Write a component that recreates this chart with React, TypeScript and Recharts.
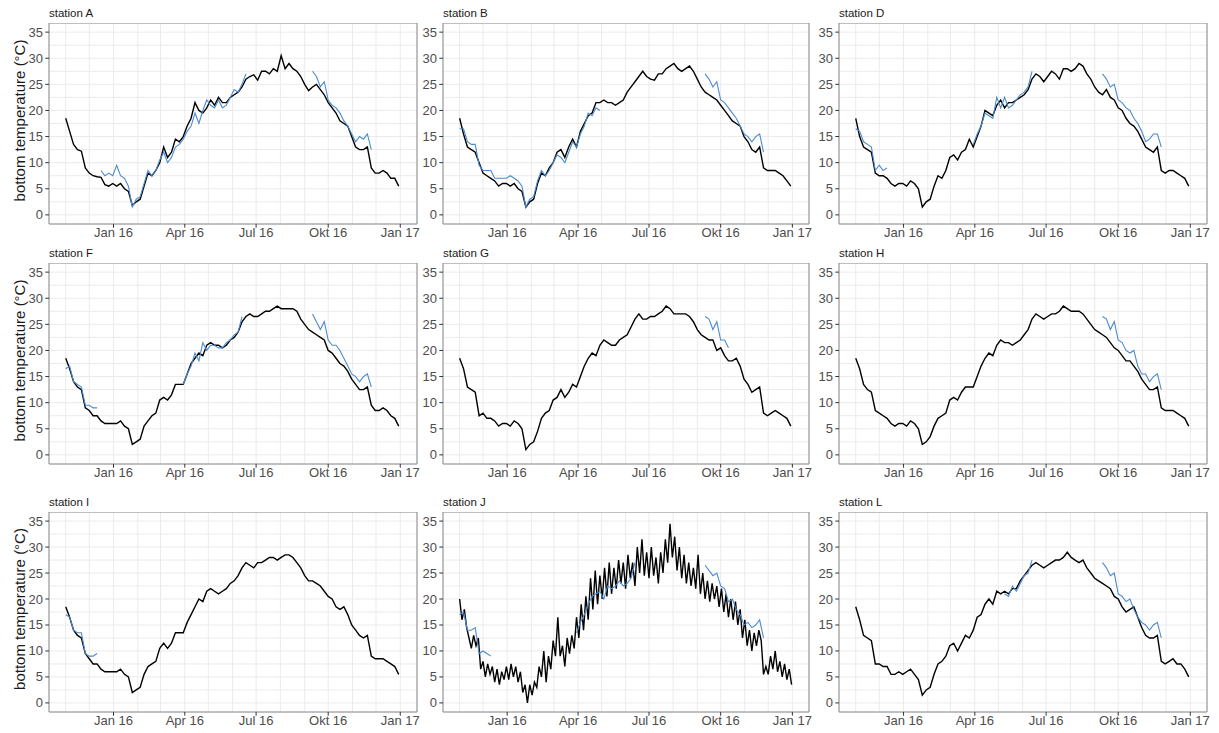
import { LineChart, Line, XAxis, YAxis, CartesianGrid, ReferenceArea } from 'recharts'

// days since 1 Jan 2016, one reading every 5 days
const days = [
  -61, -56, -51, -46, -41, -36, -31, -26, -21, -16,
  -11, -6, -1, 4, 9, 14, 19, 24, 29, 34,
  39, 44, 49, 54, 59, 64, 69, 74, 79, 84,
  89, 94, 99, 104, 109, 114, 119, 124, 129, 134,
  139, 144, 149, 154, 159, 164, 169, 174, 179, 184,
  189, 194, 199, 204, 209, 214, 219, 224, 229, 234,
  239, 244, 249, 254, 259, 264, 269, 274, 279, 284,
  289, 294, 299, 304, 309, 314, 319, 324, 329, 334,
  339, 344, 349, 354, 359, 364,
]

// station J is much noisier, read every 3 days
const daysJ = [
  -61, -58, -55, -52, -49, -46, -43, -40, -37, -34,
  -31, -28, -25, -22, -19, -16, -13, -10, -7, -4,
  -1, 2, 5, 8, 11, 14, 17, 20, 23, 26,
  29, 32, 35, 38, 41, 44, 47, 50, 53, 56,
  59, 62, 65, 68, 71, 74, 77, 80, 83, 86,
  89, 92, 95, 98, 101, 104, 107, 110, 113, 116,
  119, 122, 125, 128, 131, 134, 137, 140, 143, 146,
  149, 152, 155, 158, 161, 164, 167, 170, 173, 176,
  179, 182, 185, 188, 191, 194, 197, 200, 203, 206,
  209, 212, 215, 218, 221, 224, 227, 230, 233, 236,
  239, 242, 245, 248, 251, 254, 257, 260, 263, 266,
  269, 272, 275, 278, 281, 284, 287, 290, 293, 296,
  299, 302, 305, 308, 311, 314, 317, 320, 323, 326,
  329, 332, 335, 338, 341, 344, 347, 350, 353, 356,
  359, 362, 365,
]

const monthStarts = [-61, -31, 0, 31, 60, 91, 121, 152, 182, 213, 244, 274, 305, 335, 366]
const monthLabels: Record<number, string> = { 0: 'Jan 16', 91: 'Apr 16', 182: 'Jul 16', 274: 'Okt 16', 366: 'Jan 17' }
const tempTicks = [0, 2.5, 5, 7.5, 10, 12.5, 15, 17.5, 20, 22.5, 25, 27.5, 30, 32.5, 35]

const stationNames = ['station A', 'station B', 'station D', 'station F', 'station G', 'station H', 'station I', 'station J', 'station L']

// black = station series, blue = comparison series (segments on the 5-day grid, starting at a day)
const blackA = [
  18.5, 16, 13.5, 12.5, 12.2, 9, 8, 7.5, 7.3, 7.2,
  5.8, 5.5, 6, 5.5, 6, 5, 4.5, 1.8, 2.5, 3,
  5.5, 8, 7.5, 8.5, 10, 13, 11, 12, 14.5, 14,
  15, 17, 18.5, 21.5, 20, 19.5, 20.5, 22, 21, 22.5,
  21.5, 21.5, 22.5, 23, 23.5, 24.5, 26, 26.5, 26.8, 25.8,
  27.5, 27.5, 27, 28, 27.5, 30.5, 28, 29, 28, 27.5,
  26.5, 25, 23.8, 24.5, 25, 24, 23, 21.5, 20.5, 19.5,
  18, 17.5, 17, 15, 13, 12.5, 12.5, 13, 9, 8,
  8, 8.5, 8, 7, 7, 5.5,
]
const blueA = [
  { from: -16, vals: [8.5, 7.5, 8, 7.5, 9.5, 7.5, 7, 5.5, 1.5, 3, 3.5, 6, 8.5, 7.5, 8.5, 10.5, 12, 10, 11, 13, 13.5, 14.5, 16, 17, 19.5, 17.5, 20, 22, 21, 20.5, 22, 20.5, 21, 22.5, 24, 23.5, 25, 27] },
  { from: 254, vals: [27.5, 26.5, 24.5, 25.5, 22, 21, 20.5, 19.5, 18, 17, 15.5, 14, 15, 14.5, 15.5, 12.5] },
]

const blackB = [
  18.5, 15.5, 13, 12.5, 12, 10, 8, 7.5, 7, 6.5,
  5.5, 6, 6, 5.5, 6, 5, 4.5, 1.5, 2.5, 3,
  6, 8, 7.5, 9, 10, 12, 12.5, 11, 13, 14.5,
  13, 16, 17.5, 19, 19.5, 21.5, 21.5, 22, 21.5, 21.5,
  21, 21.5, 22, 23.5, 24.5, 25.5, 26.5, 27.5, 26.5, 26,
  25.8, 27, 27, 28, 28.5, 29, 28, 27.5, 28, 28.5,
  27.5, 26, 24.5, 23.5, 23, 22.5, 22, 21, 20, 19,
  18, 17.5, 17, 15, 14, 12.5, 12, 13, 9, 8.5,
  8.5, 8.5, 8, 7.5, 6.5, 5.5,
]
const blueB = [
  { from: -61, vals: [16.5, 16.5, 14, 13.5, 13.5, 9.5, 8.5, 8.5, 8.5, 7, 7, 7, 7, 7.5, 7, 6.5, 5.5, 1.5, 3, 3.5, 6.5, 8.5, 7.5, 8.5, 10, 11.5, 11, 10, 12, 14, 13, 15.5, 17, 19.5, 19, 20.5, 20] },
  { from: 254, vals: [27, 26, 24.5, 25.5, 22, 21.5, 20.5, 19.5, 18.5, 17, 15.5, 15, 14, 15, 15.5, 12] },
]

const blackD = [
  18.5, 15, 13, 12.5, 12, 8, 7.5, 7.5, 7, 6,
  5.5, 6, 6, 5.5, 6.5, 6, 5, 1.5, 2.5, 3,
  5.5, 7.5, 7, 8.5, 11, 11.5, 10.5, 12, 12.5, 14.5,
  13, 15, 17, 20, 19.5, 19, 21, 22, 20.5, 21.5,
  21.5, 22, 22.5, 23, 24, 26, 27, 26.5, 25.5, 26.5,
  27.5, 27, 26, 28, 28, 27.5, 28, 29, 28.5, 27,
  26, 24.5, 23.5, 23, 24, 22.5, 22, 20.5, 20, 18.5,
  17.5, 17, 16, 14.5, 13, 12.5, 12, 13, 8.5, 8,
  8.5, 8.5, 8, 7.5, 7, 5.5,
]
const blueD = [
  { from: -61, vals: [16.5, 16, 14, 13.5, 13, 8.5, 9.5, 8.5, 9] },
  { from: 89, vals: [13.5, 15.5, 17, 19.5, 19, 18.5, 22.5, 20.5, 22.5, 20.5, 21, 22, 23, 23.5, 24.5, 27.5] },
  { from: 254, vals: [27, 26, 24.5, 25, 22, 21.5, 20.5, 20, 18.5, 17.5, 16, 14, 14.5, 15.5, 15.5, 13] },
]

const blackF = [
  18.5, 16.5, 14, 13, 12.5, 9, 8.5, 7.5, 7.5, 6.5,
  6, 6, 6, 6, 6.5, 5.5, 5, 2, 2.5, 3,
  5.5, 6.5, 7.5, 8, 10.5, 11, 10.5, 11.5, 13.5, 13.5,
  13.5, 15.5, 17.5, 18.5, 19.5, 19, 21, 21.5, 21, 21,
  20.5, 21, 22, 22.5, 23.5, 25.5, 26.5, 27, 26.5, 26.5,
  27, 27.5, 27.5, 28, 28.5, 28, 28, 28, 28, 27.5,
  26, 25, 24, 23.5, 23, 22.5, 22, 20, 19.5, 18.5,
  17.5, 17, 16, 14.5, 13.5, 12.5, 12.5, 13, 9.5, 8.5,
  8.5, 9, 8.5, 7.5, 7, 5.5,
]
const blueF = [
  { from: -61, vals: [16.5, 17, 14, 13.5, 13, 9.5, 9.5, 9, 9] },
  { from: 89, vals: [13.5, 15.5, 17, 19.5, 18, 21.5, 20, 21, 21, 20.5, 20.5, 21.5, 22, 23, 23.5, 26.5] },
  { from: 254, vals: [27, 25.5, 24, 25.5, 22, 21, 21, 20, 18.5, 17, 15.5, 15, 14, 15, 15.5, 13] },
]

const blackG = [
  18.5, 16.5, 13, 12.5, 12, 7.5, 8, 7, 7, 6.5,
  5.5, 6, 6, 5.5, 6.5, 6, 5, 1, 2, 2.5,
  4.5, 7, 8, 8.5, 10.5, 11, 12.5, 11, 12, 13.5,
  13, 15, 17, 18.5, 19.5, 19, 21, 22, 21.5, 21,
  21, 22, 22.5, 23, 24.5, 26, 27, 26, 26, 26.5,
  26.5, 27, 27.5, 28.5, 28, 27, 27, 27, 27, 26.5,
  25.5, 24, 23, 22.5, 22, 22, 20, 20.5, 19, 18,
  18, 18.5, 17, 14.5, 13.5, 12, 12.5, 13, 8, 7.5,
  8, 8.5, 8, 7.5, 7, 5.5,
]
const blueG = [
  { from: 254, vals: [26.5, 26, 24, 25.5, 22, 22, 20.5] },
]

const blackH = [
  18.5, 16.5, 13.5, 12.5, 12, 8.5, 8, 7.5, 7, 6,
  5.5, 6, 6, 5.5, 6.5, 6, 5, 2, 2.5, 3.5,
  5.5, 7, 7.5, 8, 10.5, 11, 10.5, 12, 13, 13,
  13, 15, 17, 18.5, 19.5, 19, 21, 22, 21.5, 21.5,
  21, 21.5, 22, 23, 24, 26, 27, 26.5, 26, 26.5,
  27, 27, 27.5, 28.5, 28, 27.5, 27.5, 27.5, 27, 26,
  25, 24, 23.5, 23, 22.5, 21.5, 20.5, 20, 19, 18,
  18, 17, 16, 14.5, 13.5, 12.5, 12.5, 13, 9, 8.5,
  8.5, 8.5, 8, 7.5, 7, 5.5,
]
const blueH = [
  { from: 254, vals: [26.5, 26, 24, 25.5, 22, 21.5, 20, 19.5, 20, 17, 15.5, 15.5, 14, 15, 15.5, 12.5] },
]

const blackI = [
  18.5, 16.5, 14, 13, 12.5, 9.5, 8.5, 7.5, 7.5, 6.5,
  6, 6, 6, 6, 6.5, 5.5, 5, 2, 2.5, 3,
  5.5, 7, 7.5, 8, 10.5, 11.5, 10.5, 11.5, 13.5, 13.5,
  13.5, 15.5, 17, 18.5, 20, 19.5, 21.5, 22, 21.5, 21,
  21.5, 22, 23, 23.5, 24.5, 26, 27, 26.5, 26, 27,
  27, 27.5, 28, 28, 27.5, 28, 28.5, 28.5, 28, 27,
  26, 24.5, 23.5, 23.5, 23, 22.5, 21.5, 20.5, 20, 18.5,
  18, 18.5, 17, 15, 14, 13, 12.5, 13, 9, 8.5,
  8.5, 8.5, 8, 7.5, 7, 5.5,
]
const blueI = [
  { from: -61, vals: [17, 16.5, 14, 13.5, 13.5, 9.5, 9, 9, 9.5] },
]

const blackJ = [
  20, 16, 18, 14.5, 12.5, 10.5, 13, 11, 12.5, 6.5,
  8, 5, 7.5, 5.5, 7, 4, 6.5, 3.5, 6, 4.5,
  7, 4.5, 7.5, 5, 7, 4, 6, 2, 3.5, 0,
  3.5, 1.5, 4, 3, 7, 5, 10, 4, 9, 6.5,
  12, 9, 16.5, 9, 11, 7, 12.5, 9.5, 13, 10.5,
  16.5, 12.5, 19, 14, 20.5, 16, 24, 18, 25.5, 19,
  24.5, 20, 26, 20.5, 27, 21, 26, 22, 27.5, 23,
  27, 22, 28.5, 24, 27, 22.5, 30, 25, 31.5, 24.5,
  29, 24, 30, 24.5, 28, 23, 29, 25, 31.5, 27,
  34.5, 28, 32, 25.5, 30, 24, 28.5, 23, 27, 22.5,
  26, 22, 28.5, 21, 25, 20, 23.5, 19.5, 23, 20,
  22.5, 18.5, 22, 17.5, 21, 16.5, 20, 16, 19.5, 15,
  18, 12.5, 16, 11, 14, 10, 13.5, 11, 14, 12,
  5.5, 7, 5.5, 9, 6.5, 10, 6, 8, 5, 7.5,
  4.5, 6.5, 3.5,
]
const blueJ = [
  { from: -61, vals: [17, 17.5, 14, 14, 14.5, 9.5, 10, 9.5, 9] },
  { from: 89, vals: [13.5, 15.5, 17, 19, 20.5, 21, 21.5, 20, 22.5, 22, 22.5, 23.5, 22.5, 23, 24, 27] },
  { from: 254, vals: [26.5, 25.5, 24.5, 25, 22.5, 22, 19.5, 20, 18, 17, 15, 15.5, 14.5, 15, 16, 12.5] },
]

const blackL = [
  18.5, 16, 13, 12.5, 12, 7.5, 7.5, 7, 7, 5.5,
  5.5, 6, 5.5, 6, 6.5, 5.5, 4.5, 1.5, 2.5, 3,
  5.5, 7.5, 8, 9, 11, 11.5, 10, 11.5, 13, 12.5,
  14, 16.5, 17, 19, 20, 19, 21.5, 21, 21.5, 21,
  22, 22, 23.5, 24.5, 25.5, 26.5, 27, 26.5, 26, 26.5,
  27, 27.5, 27.5, 28, 29, 28, 27.5, 27, 27.5, 26,
  25, 24, 23.5, 23, 22.5, 22, 20.5, 20, 18.5, 17.5,
  18, 18.5, 16.5, 14.5, 13, 12.5, 12.5, 13, 8, 7.5,
  8, 8.5, 7.5, 7.5, 6.5, 5,
]
const blueL = [
  { from: 129, vals: [21, 20.5, 22.5, 21.5, 23, 24.5, 25, 27.5] },
  { from: 254, vals: [27, 26, 24.5, 25, 21, 20.5, 19.5, 20, 18, 16.5, 15.5, 15, 14, 15, 15.5, 12.5] },
]

const blacks = [blackA, blackB, blackD, blackF, blackG, blackH, blackI, blackJ, blackL]
const blackDays = [days, days, days, days, days, days, days, daysJ, days]
const blues = [blueA, blueB, blueD, blueF, blueG, blueH, blueI, blueJ, blueL]

const cols = [{ left: 49, width: 368 }, { left: 443, width: 366 }, { left: 839, width: 368 }]
const rows = [{ top: 23, height: 201 }, { top: 263, height: 201 }, { top: 512, height: 200 }]

const FONT = '"Liberation Sans", Arial, Helvetica, sans-serif'
const X_DOMAIN = [-82.35, 387.35]
const Y_DOMAIN = [-1.75, 36.75]
const Y_W = 30
const X_H = 24
const RIGHT = 22

const XTick = (props: any) => {
  const { x, y, payload } = props
  const label = monthLabels[payload.value]
  if (!label) return <g />
  return (
    <g>
      <line x1={x} x2={x} y1={y} y2={y + 3.7} stroke="#333" strokeWidth={1} />
      <text x={x} y={y + 12.5} textAnchor="middle" fill="#4d4d4d" fontSize={13} fontFamily={FONT}>{label}</text>
    </g>
  )
}

const YTick = (props: any) => {
  const { x, y, payload } = props
  if (payload.value % 5 !== 0) return <g />
  return (
    <g>
      <line x1={x - 3.7} x2={x} y1={y} y2={y} stroke="#333" strokeWidth={1} />
      <text x={x - 6} y={y} dy={4.5} textAnchor="end" fill="#4d4d4d" fontSize={13} fontFamily={FONT}>{payload.value}</text>
    </g>
  )
}

function buildBlue(blue: { from: number; vals: number[] }[]) {
  const out: { day: number; v: number | null }[] = []
  blue.forEach(seg => {
    seg.vals.forEach((v, i) => out.push({ day: seg.from + 5 * i, v }))
    out.push({ day: seg.from + 5 * seg.vals.length - 2, v: null })
  })
  return out
}

const Panel = ({ idx }: { idx: number }) => {
  const col = cols[idx % 3]
  const row = rows[Math.floor(idx / 3)]
  const blackData = blackDays[idx].map((d, i) => ({ day: d, v: blacks[idx][i] }))
  const blueData = buildBlue(blues[idx])
  return (
    <div style={{ position: 'absolute', left: col.left - Y_W, top: row.top }}>
      <LineChart width={col.width + Y_W + RIGHT} height={row.height + X_H} margin={{ top: 0, right: RIGHT, bottom: 0, left: 0 }}>
        <CartesianGrid stroke="#ebebeb" strokeWidth={1} />
        <XAxis
          dataKey="day"
          type="number"
          domain={X_DOMAIN}
          allowDataOverflow
          ticks={monthStarts}
          interval={0}
          height={X_H}
          tickSize={0}
          tickMargin={0}
          axisLine={false}
          tick={<XTick />}
        />
        <YAxis
          type="number"
          domain={Y_DOMAIN}
          allowDataOverflow
          ticks={tempTicks}
          interval={0}
          width={Y_W}
          tickSize={0}
          tickMargin={0}
          axisLine={false}
          tick={<YTick />}
        />
        <Line data={blackData} dataKey="v" stroke="#000" strokeWidth={1.4} dot={false} isAnimationActive={false} />
        <Line data={blueData} dataKey="v" stroke="#4b8bcf" strokeWidth={1.1} dot={false} isAnimationActive={false} connectNulls={false} />
        <ReferenceArea x1={X_DOMAIN[0]} x2={X_DOMAIN[1]} y1={Y_DOMAIN[0]} y2={Y_DOMAIN[1]} fill="none" stroke="#8a8a8a" strokeWidth={1} ifOverflow="visible" />
      </LineChart>
    </div>
  )
}

export default function App() {
  return (
    <div style={{ position: 'absolute', left: 0, top: 0, width: 1219, height: 733, background: '#fff', fontFamily: FONT }}>
      {stationNames.map((_, i) => <Panel key={i} idx={i} />)}
      <svg width={1219} height={733} style={{ position: 'absolute', left: 0, top: 0, pointerEvents: 'none' }}>
        {stationNames.map((name, i) => (
          <text key={name} x={cols[i % 3].left} y={rows[Math.floor(i / 3)].top - 6} fontSize={11.5} fill="#1a1a1a" fontFamily={FONT}>{name}</text>
        ))}
        {rows.map((r, i) => {
          const cy = r.top + r.height / 2 - 3
          return (
            <text key={i} x={19} y={cy} transform={`rotate(-90 19 ${cy})`} textAnchor="middle" dominantBaseline="central" fontSize={15} fill="#1a1a1a" fontFamily={FONT}>
              bottom temperature (°C)
            </text>
          )
        })}
      </svg>
    </div>
  )
}
